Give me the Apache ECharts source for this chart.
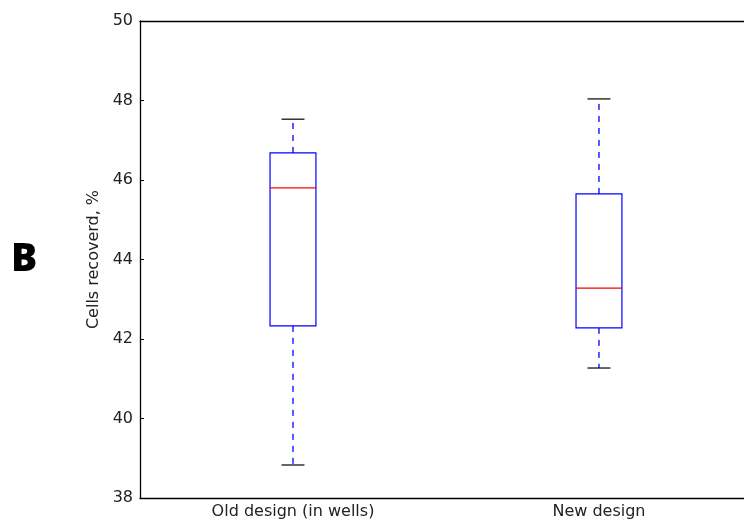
<!DOCTYPE html>
<html><head><meta charset="utf-8">
<script src="https://cdn.jsdelivr.net/npm/echarts@6/dist/echarts.min.js"></script>
<style>html,body{margin:0;padding:0;background:#fff}#c{width:744px;height:525px}</style>
</head><body><div id="c"></div>
<script>
const categories = ["Old design (in wells)", "New design"];
const whiskerLow = [38.83, 41.27];
const q1 = [42.33, 42.28];
const median = [45.80, 43.28];
const q3 = [46.68, 45.65];
const whiskerHigh = [47.53, 48.04];
const yTicks = [38, 40, 42, 44, 46, 48, 50];

const data = categories.map((c, i) => [i + 1, whiskerLow[i], q1[i], median[i], q3[i], whiskerHigh[i]]);

function renderItem(params, api) {
  const i = api.value(0);
  const unit = api.size([1, 0])[0];
  const half = unit * 0.15 / 2;
  const capHalf = half / 2;
  const pLow = api.coord([i, api.value(1)]);
  const pQ1 = api.coord([i, api.value(2)]);
  const pMed = api.coord([i, api.value(3)]);
  const pQ3 = api.coord([i, api.value(4)]);
  const pHigh = api.coord([i, api.value(5)]);
  const x = pQ1[0];
  const dashStyle = {stroke: '#0000ff', lineWidth: 1.3, lineDash: [6, 6], fill: null};
  return {
    type: 'group',
    children: [
      {type: 'line', shape: {x1: x, y1: pQ1[1], x2: x, y2: pLow[1]}, style: dashStyle},
      {type: 'line', shape: {x1: x, y1: pQ3[1], x2: x, y2: pHigh[1]}, style: dashStyle},
      {type: 'line', shape: {x1: x - capHalf, y1: pLow[1], x2: x + capHalf, y2: pLow[1]}, style: {stroke: '#000', lineWidth: 1.2}},
      {type: 'line', shape: {x1: x - capHalf, y1: pHigh[1], x2: x + capHalf, y2: pHigh[1]}, style: {stroke: '#000', lineWidth: 1.2}},
      {type: 'rect', shape: {x: x - half, y: pQ3[1], width: half * 2, height: pQ1[1] - pQ3[1]}, style: {stroke: '#0000ff', lineWidth: 1.2, fill: null}},
      {type: 'line', shape: {x1: x - half, y1: pMed[1], x2: x + half, y2: pMed[1]}, style: {stroke: '#ff0000', lineWidth: 1.2}}
    ]
  };
}

const chart = echarts.init(document.getElementById('c'), null, {renderer: 'canvas'});
chart.setOption({
  animation: false,
  backgroundColor: '#fff',
  grid: {left: 140, top: 21, right: 0, bottom: 27, show: false},
  xAxis: [{
    type: 'value', min: 0.5, max: 2.474, interval: 0.5,
    axisLine: {show: true, onZero: false, lineStyle: {color: '#000', width: 1.3}},
    axisTick: {show: false},
    splitLine: {show: false},
    axisLabel: {color: '#222', fontSize: 16, fontFamily: 'DejaVu Sans', margin: 6, showMinLabel: false, showMaxLabel: false,
      formatter: v => (Number.isInteger(v) && categories[v - 1]) ? categories[v - 1] : ''}
  }, {
    type: 'value', position: 'top', min: 0.5, max: 2.474,
    axisLine: {show: true, onZero: false, lineStyle: {color: '#000', width: 1.3}},
    axisTick: {show: false}, axisLabel: {show: false}, splitLine: {show: false}
  }],
  yAxis: {
    type: 'value', min: 38, max: 50, interval: 2,
    name: 'Cells recoverd, %', nameLocation: 'middle', nameGap: 36, nameRotate: 90,
    nameTextStyle: {color: '#222', fontSize: 16, fontFamily: 'DejaVu Sans'},
    axisLine: {show: true, onZero: false, lineStyle: {color: '#000', width: 1.3}},
    axisTick: {show: true, inside: true, length: 4, lineStyle: {color: '#000'}},
    splitLine: {show: false},
    axisLabel: {color: '#222', fontSize: 16, fontFamily: 'DejaVu Sans', margin: 7,
      formatter: v => yTicks.includes(v) ? String(v) : ''}
  },
  graphic: [{type: 'text', left: 11, top: 240, style: {text: 'B', font: '800 39px "Open Sans"', fill: '#000'}}],
  series: [{type: 'custom', renderItem: renderItem, data: data, encode: {x: 0, y: [1, 2, 3, 4, 5]}, clip: false}]
});
</script></body></html>
